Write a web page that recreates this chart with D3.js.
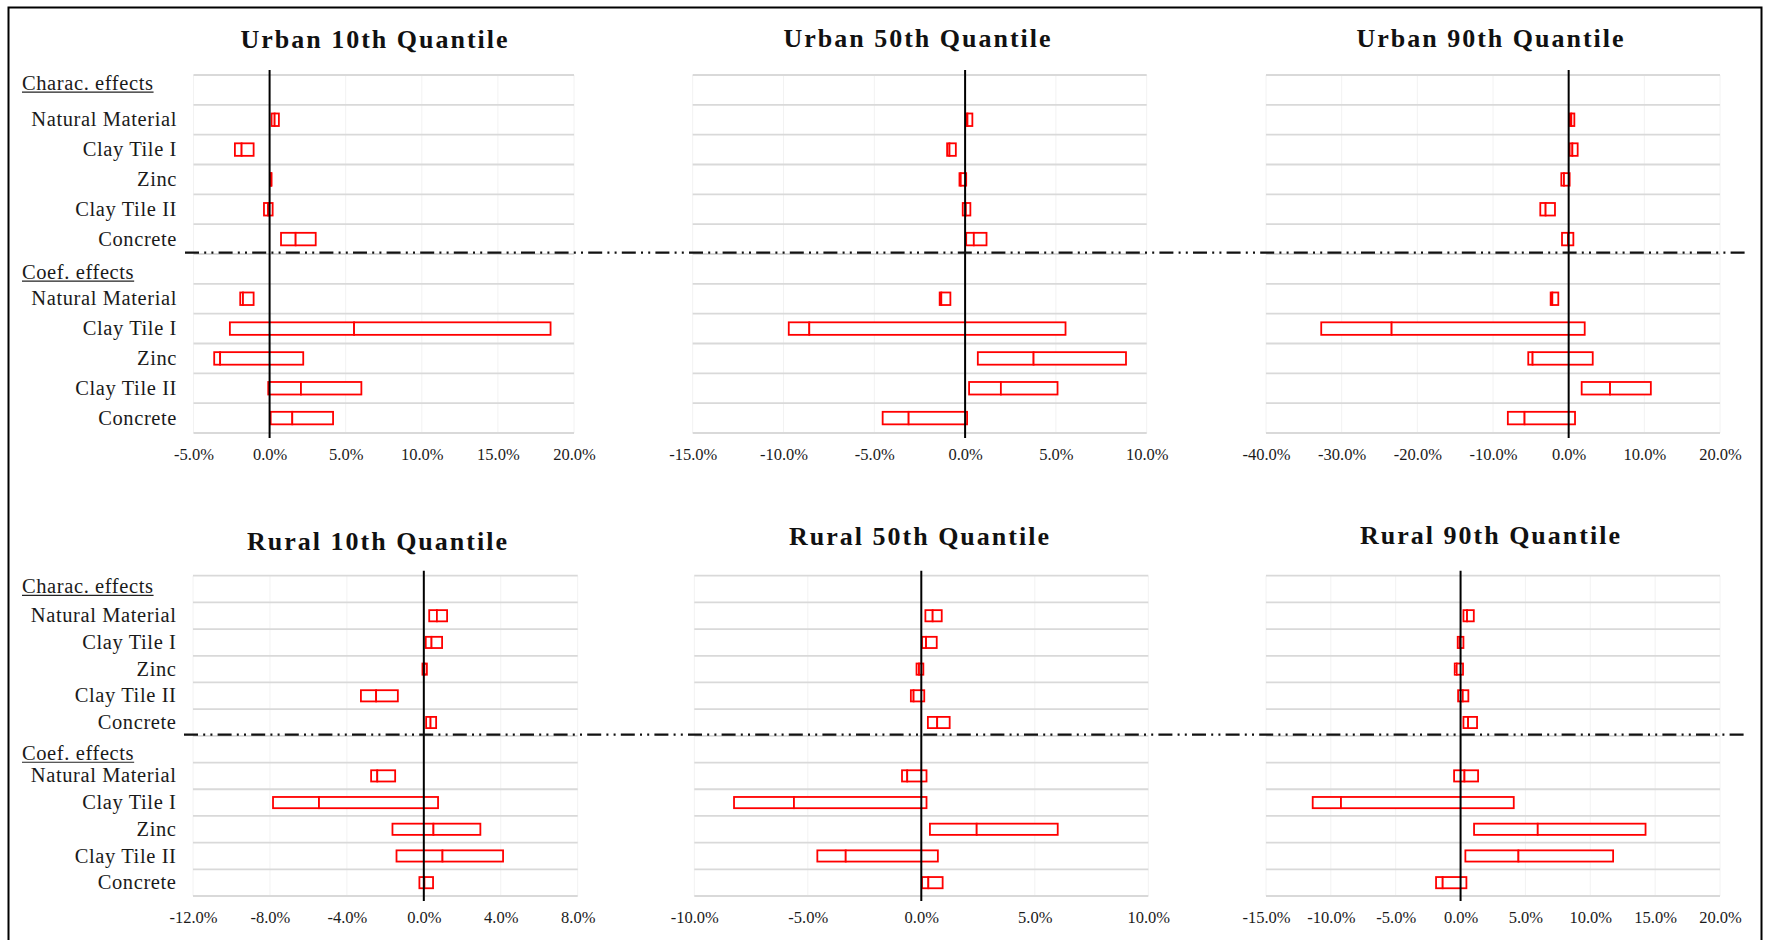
<!DOCTYPE html>
<html><head><meta charset="utf-8">
<script src="https://cdn.jsdelivr.net/npm/d3@7"></script>
<style>body{margin:0;background:#fff} svg{display:block}</style>
</head><body><svg id="c" width="1769" height="940"></svg>
<script>
// ---------- data ----------
const materials = ["Natural Material", "Clay Tile I", "Zinc", "Clay Tile II", "Concrete"];
const sections = ["Charac. effects", "Coef. effects"];
const titles = ["Urban 10th Quantile", "Urban 50th Quantile", "Urban 90th Quantile",
                "Rural 10th Quantile", "Rural 50th Quantile", "Rural 90th Quantile"];

// order: Charac (NM, CT I, Zinc, CT II, Concrete), Coef (NM, CT I, Zinc, CT II, Concrete); values in %
const urban10Low  = [0.13, -2.28, 0.08, -0.37, 0.75, -1.93, -2.61, -3.64, -0.09, 0.07];
const urban10Mid  = [0.33, -1.84, 0.10, -0.10, 1.71, -1.75, 5.55, -3.25, 2.06, 1.49];
const urban10High = [0.61, -1.05, 0.13, 0.20, 3.03, -1.05, 18.46, 2.21, 6.03, 4.17];

const urban50Low  = [0.06, -0.99, -0.31, -0.13, 0.06, -1.40, -9.71, 0.70, 0.22, -4.54];
const urban50Mid  = [0.13, -0.86, -0.24, 0.04, 0.48, -1.31, -8.58, 3.77, 1.97, -3.11];
const urban50High = [0.40, -0.51, 0.06, 0.29, 1.18, -0.81, 5.53, 8.86, 5.09, 0.11];

const urban90Low  = [0.13, 0.13, -0.97, -3.75, -0.88, -2.38, -32.7, -5.34, 1.72, -8.04];
const urban90Mid  = [0.35, 0.49, -0.62, -3.05, -0.09, -2.16, -23.4, -4.77, 5.47, -5.83];
const urban90High = [0.75, 1.19, 0.13, -1.81, 0.62, -1.37, 2.12, 3.18, 10.86, 0.84];

const rural10Low  = [0.28, 0.10, -0.07, -3.27, 0.12, -2.74, -7.84, -1.63, -1.42, -0.23];
const rural10Mid  = [0.68, 0.40, 0.03, -2.48, 0.35, -2.42, -5.45, 0.50, 0.97, 0.03];
const rural10High = [1.21, 0.95, 0.16, -1.35, 0.64, -1.49, 0.74, 2.94, 4.12, 0.48];

const rural50Low  = [0.18, 0.03, -0.21, -0.46, 0.29, -0.85, -8.25, 0.38, -4.58, 0.03];
const rural50Mid  = [0.50, 0.21, -0.10, -0.34, 0.70, -0.62, -5.61, 2.44, -3.33, 0.31];
const rural50High = [0.90, 0.68, 0.09, 0.13, 1.25, 0.23, 0.23, 6.01, 0.73, 0.94];

const rural90Low  = [0.22, -0.22, -0.45, -0.19, 0.22, -0.50, -11.40, 1.04, 0.37, -1.89];
const rural90Mid  = [0.50, -0.06, -0.30, 0.17, 0.58, 0.30, -9.22, 5.95, 4.46, -1.38];
const rural90High = [1.02, 0.22, 0.19, 0.60, 1.27, 1.35, 4.10, 14.26, 11.76, 0.45];

const urban10Ticks = [-5, 0, 5, 10, 15, 20];
const urban50Ticks = [-15, -10, -5, 0, 5, 10];
const urban90Ticks = [-40, -30, -20, -10, 0, 10, 20];
const rural10Ticks = [-12, -8, -4, 0, 4, 8];
const rural50Ticks = [-10, -5, 0, 5, 10];
const rural90Ticks = [-15, -10, -5, 0, 5, 10, 15, 20];

// ---------- layout ----------
const svg = d3.select("#c");
const SERIF = "'Liberation Serif', 'Times New Roman', serif";
const rowKeys = [];
sections.forEach(s => { rowKeys.push(s); materials.forEach(m => rowKeys.push(s + "|" + m)); });
const dataKeys = rowKeys.filter(k => k.includes("|"));

const panels = [
  {title: titles[0], low: urban10Low, mid: urban10Mid, high: urban10High, ticks: urban10Ticks, x0: 193.5, x1: 574,   top: 75,    bottom: 433, tx: 375,  ty: 48.3, left: true, hdr: [-7.3, 2.7]},
  {title: titles[1], low: urban50Low, mid: urban50Mid, high: urban50High, ticks: urban50Ticks, x0: 692.7, x1: 1146.7, top: 75,   bottom: 433, tx: 918,  ty: 46.7, left: false},
  {title: titles[2], low: urban90Low, mid: urban90Mid, high: urban90High, ticks: urban90Ticks, x0: 1266,  x1: 1720,  top: 75,    bottom: 433, tx: 1491, ty: 46.7, left: false},
  {title: titles[3], low: rural10Low, mid: rural10Mid, high: rural10High, ticks: rural10Ticks, x0: 193,   x1: 577.7, top: 575.7, bottom: 896, tx: 378,  ty: 550,  left: true, hdr: [-3.2, 3.5]},
  {title: titles[4], low: rural50Low, mid: rural50Mid, high: rural50High, ticks: rural50Ticks, x0: 694.3, x1: 1148.3, top: 575.7, bottom: 896, tx: 920, ty: 545,  left: false},
  {title: titles[5], low: rural90Low, mid: rural90Mid, high: rural90High, ticks: rural90Ticks, x0: 1266,  x1: 1720,  top: 575.7, bottom: 896, tx: 1491, ty: 544,  left: false}
];

const fmt = v => (v < 0 ? "-" : "") + Math.abs(v).toFixed(1) + "%";

panels.forEach(p => {
  const g = svg.append("g");
  const x = d3.scaleLinear().domain(d3.extent(p.ticks)).range([p.x0, p.x1]);
  const y = d3.scaleBand().domain(rowKeys).range([p.top, p.bottom]).padding(0);
  const bw = y.bandwidth();

  // faint vertical gridlines
  g.selectAll("line.vg").data(p.ticks).join("line")
    .attr("x1", d => x(d)).attr("x2", d => x(d))
    .attr("y1", p.top).attr("y2", p.bottom)
    .attr("stroke", "#f2f2f2").attr("stroke-width", 1);

  // horizontal gridlines at band boundaries
  const hLines = rowKeys.map(k => y(k)).concat([p.bottom]);
  g.selectAll("line.hg").data(hLines).join("line")
    .attr("x1", p.x0).attr("x2", p.x1)
    .attr("y1", d => d).attr("y2", d => d)
    .attr("stroke", "#d9d9d9").attr("stroke-width", 1.8);

  // boxes: low->mid and mid->high
  const rows = dataKeys.map((k, i) => ({k, low: p.low[i], mid: p.mid[i], high: p.high[i]}));
  const bh = bw * 0.42;
  const boxes = g.selectAll("g.box").data(rows).join("g");
  boxes.append("rect")
    .attr("x", d => x(Math.min(d.low, d.mid))).attr("width", d => Math.abs(x(d.mid) - x(d.low)))
    .attr("y", d => y(d.k) + (bw - bh) / 2).attr("height", bh)
    .attr("fill", "#fff").attr("stroke", "#ff0000").attr("stroke-width", 1.8);
  boxes.append("rect")
    .attr("x", d => x(Math.min(d.mid, d.high))).attr("width", d => Math.abs(x(d.high) - x(d.mid)))
    .attr("y", d => y(d.k) + (bw - bh) / 2).attr("height", bh)
    .attr("fill", "#fff").attr("stroke", "#ff0000").attr("stroke-width", 1.8);

  // zero line
  g.append("line")
    .attr("x1", x(0)).attr("x2", x(0))
    .attr("y1", p.top - 5).attr("y2", p.bottom + 5)
    .attr("stroke", "#000").attr("stroke-width", 2);

  // x axis
  const ax = g.append("g").attr("transform", `translate(0,${p.bottom})`)
    .call(d3.axisBottom(x).tickValues(p.ticks).tickSize(0).tickPadding(14.8).tickFormat(fmt));
  ax.select(".domain").remove();
  ax.selectAll("text").attr("font-family", SERIF).attr("font-size", 16.5).attr("fill", "#1a1a1a");

  // title
  svg.append("text").attr("x", p.tx).attr("y", p.ty)
    .attr("text-anchor", "middle").attr("font-family", SERIF).attr("font-weight", "bold")
    .attr("font-size", 26).attr("letter-spacing", "2px").attr("fill", "#111")
    .text(p.title);

  if (p.left) {
    const ay = g.append("g").attr("transform", `translate(${p.x0},0)`)
      .call(d3.axisLeft(y).tickValues(dataKeys).tickSize(0).tickPadding(16.5).tickFormat(k => k.split("|")[1]));
    ay.select(".domain").remove();
    ay.selectAll("text").attr("font-family", SERIF).attr("font-size", 20.5)
      .attr("letter-spacing", "0.6px").attr("fill", "#1a1a1a");

    sections.forEach((s, i) => {
      const cy = y(s) + bw / 2 + p.hdr[i];
      const t = g.append("text").attr("x", 22).attr("y", cy + 7)
        .attr("font-family", SERIF).attr("font-size", 20.5).attr("letter-spacing", "0.6px")
        .attr("fill", "#1a1a1a").text(s);
      const w = t.node().getComputedTextLength();
      g.append("line").attr("x1", 22).attr("x2", 22 + w)
        .attr("y1", cy + 9.5).attr("y2", cy + 9.5)
        .attr("stroke", "#222").attr("stroke-width", 1.1);
    });
  }
  p.sepY = y(rowKeys[6]) - 1.3;
});

// dash-dot separators across each row
[[185, 1747, panels[0].sepY], [184, 1747, panels[3].sepY]].forEach(([a, b, yy]) => {
  svg.append("line").attr("x1", a).attr("x2", b).attr("y1", yy).attr("y2", yy)
    .attr("stroke", "#111").attr("stroke-width", 2.3)
    .attr("stroke-dasharray", "14,5.2,2,5.2,2,5.2");
});

// outer frame
svg.append("rect").attr("x", 8.5).attr("y", 7.5).attr("width", 1753).attr("height", 1000)
  .attr("fill", "none").attr("stroke", "#000").attr("stroke-width", 2);
</script></body></html>
